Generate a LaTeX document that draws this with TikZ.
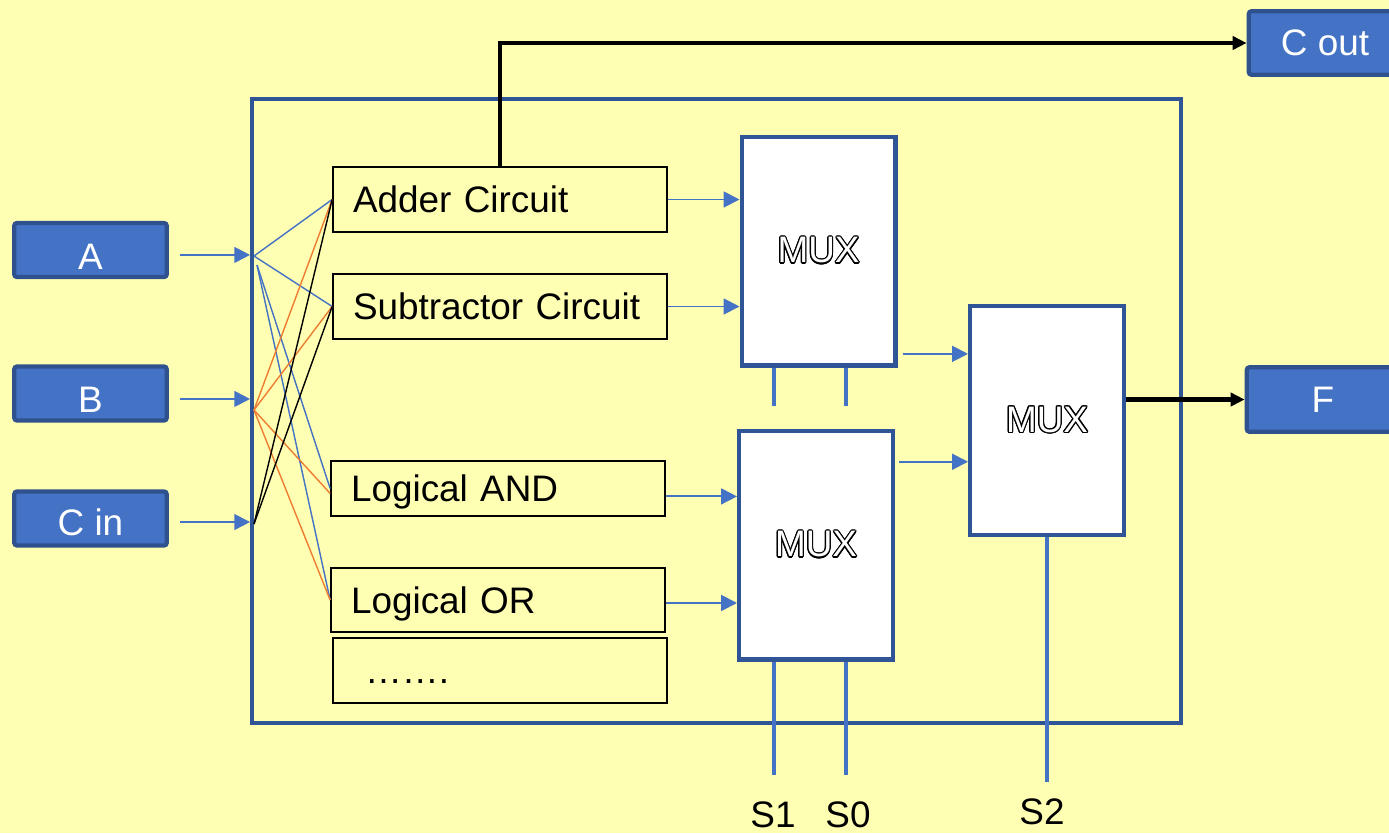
\documentclass[tikz,border=0pt]{standalone}
\usepackage{fontspec}
\setmainfont{Liberation Sans}
\usepackage{contour}
\usepackage{tikz}
\usetikzlibrary{arrows.meta, positioning, calc}
\definecolor{bgyellow}{RGB}{255, 255, 179}
\definecolor{ioblue}{RGB}{68, 114, 196}
\definecolor{ioedge}{RGB}{47, 82, 143}
\definecolor{frameblue}{RGB}{47, 85, 151}
\definecolor{wireorange}{RGB}{237, 125, 49}
\contourlength{0.7pt}

\begin{document}
\begin{tikzpicture}[
    x=0.02cm, y=-0.02cm,
    txt/.style={font=\fontsize{21}{24}\selectfont},
    iobox/.style={rectangle, draw=ioedge, line width=2.4pt, fill=ioblue, rounded corners=1.5pt, minimum width=3.05cm, minimum height=1.08cm, text=white, txt},
    unitbox/.style={rectangle, draw, line width=1pt, fill=bgyellow, inner xsep=0.4cm, text width=5.88cm, text height=15pt, text depth=0pt, minimum height=1.3cm, align=left, txt},
    muxbox/.style={rectangle, draw=frameblue, line width=2.3pt, fill=white, minimum width=3.08cm, minimum height=4.58cm, txt},
    frame/.style={rectangle, draw=frameblue, line width=2.3pt, minimum width=18.58cm, minimum height=12.48cm},
    arr/.style={-{Triangle[length=9pt, width=9pt]}, ioblue, line width=1.1pt},
    fan/.style={line width=0.8pt},
    bus/.style={-{Triangle[length=8pt, width=7.5pt]}, line width=2.3pt},
    sel/.style={ioblue, line width=2.4pt}
]
    \useasboundingbox[fill=bgyellow] (0,0) rectangle (1389,833);

    % ALU frame
    \node[frame] (alu) at (716.5,411) {};

    % inputs and outputs
    \node[iobox] (a) at (90.5,250) {\raisebox{-3.8pt}[15pt][0pt]{A}};
    \node[iobox] (b) at (90.5,393.5) {\raisebox{-3.2pt}[15pt][0pt]{B}};
    \node[iobox] (cin) at (90.5,518.5) {\raisebox{-2pt}[15pt][0pt]{C in}};
    \node[iobox, minimum height=1.27cm] (cout) at (1325,43) {C out};
    \node[iobox, minimum height=1.29cm] (f) at (1323,399.5) {F};

    % function units
    \node[unitbox] (adder) at (500,199.5) {Adder Circuit};
    \node[unitbox] (sub) at (500,306.5) {Subtractor Circuit};
    \node[unitbox, minimum height=1.1cm] (and) at (498,488.5) {Logical AND};
    \node[unitbox, minimum height=1.28cm] (or) at (498,600) {Logical OR};
    \node[unitbox] (more) at (500,670.5) {\hspace{0.24cm}…….};

    % multiplexers
    \node[muxbox] (mux1) at (818.5,251) {\contour{black}{\textcolor{white}{MUX}}};
    \node[muxbox] (mux2) at (816,545) {\contour{black}{\textcolor{white}{MUX}}};
    \node[muxbox] (mux3) at (1047,420.5) {\contour{black}{\textcolor{white}{MUX}}};

    % select labels
    \node[txt] (s1) at (773,815) {S1};
    \node[txt] (s0) at (848,815) {S0};
    \node[txt] (s2) at (1042,812) {S2};

    % fan-out points
    \coordinate (afan) at (254,256);
    \coordinate (afan2) at (257,265);
    \coordinate (bfan) at (254,410);
    \coordinate (cfan) at (254,524);

    \draw[arr, shorten <=0.22cm] ([yshift=-2.8pt]a.east) -- ([yshift=-2.8pt]a.east -| alu.west);
    \draw[arr, shorten <=0.22cm] ([yshift=-3.1pt]b.east) -- ([yshift=-3.1pt]b.east -| alu.west);
    \draw[arr, shorten <=0.22cm] ([yshift=-2pt]cin.east) -- ([yshift=-2pt]cin.east -| alu.west);

    \draw[fan, ioblue] (afan) -- (adder.west);
    \draw[fan, ioblue] (afan) -- (sub.west);
    \draw[fan, ioblue] (afan2) -- (and.west);
    \draw[fan, ioblue] (afan2) -- (or.west);
    \draw[fan, wireorange] (bfan) -- (adder.west);
    \draw[fan, wireorange] (bfan) -- (sub.west);
    \draw[fan, wireorange] (bfan) -- ([yshift=-2.8pt]and.west);
    \draw[fan, wireorange] (bfan) -- (or.west);
    \draw[fan] (cfan) -- (adder.west);
    \draw[fan] (cfan) -- (sub.west);

    % units to muxes
    \draw[arr] (adder.east) -- (adder.east -| mux1.west);
    \draw[arr] (sub.east) -- (sub.east -| mux1.west);
    \draw[arr] ([yshift=-4.5pt]and.east) -- ([yshift=-4.5pt]and.east -| mux2.west);
    \draw[arr] ([yshift=-1.7pt]or.east) -- ([yshift=-1.7pt]or.east -| mux2.west);

    \coordinate (in1) at ($(mux3.north west)!0.214!(mux3.south west)$);
    \coordinate (in2) at ($(mux3.north west)!0.677!(mux3.south west)$);
    \draw[arr, shorten <=0.1cm] (in1 -| mux1.east) -- (in1);
    \draw[arr, shorten <=0.08cm] (in2 -| mux2.east) -- (in2);

    % outputs
    \draw[bus] (adder.north) |- (cout.west);
    \draw[bus] (mux3.east |- f.west) -- (f.west);

    % select lines
    \coordinate (m1s1) at ($(mux1.south west)!0.216!(mux1.south east)$);
    \coordinate (m1s0) at ($(mux1.south west)!0.673!(mux1.south east)$);
    \coordinate (m2s1) at ($(mux2.south west)!0.234!(mux2.south east)$);
    \coordinate (m2s0) at ($(mux2.south west)!0.688!(mux2.south east)$);
    \draw[sel] (m1s1) -- ++(0,38);
    \draw[sel] (m1s0) -- ++(0,38);
    \draw[sel] (m2s1) -- ++(0,113);
    \draw[sel] (m2s0) -- ++(0,113);
    \draw[sel] (mux3.south) -- ++(0,245);
\end{tikzpicture}
\end{document}
